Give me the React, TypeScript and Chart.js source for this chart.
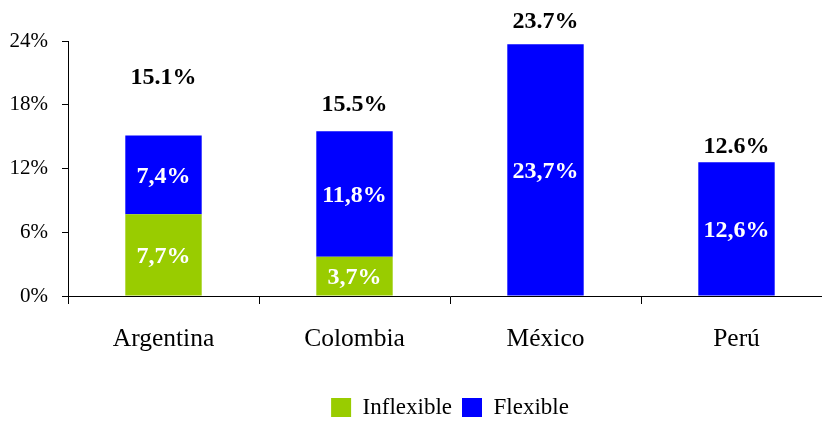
import React, { useEffect, useRef } from "react";
import { Chart, registerables } from "chart.js";

Chart.register(...registerables);

const categories = ["Argentina", "Colombia", "México", "Perú"];
const inflexible = [7.7, 3.7, 0, 0];
const flexible = [7.4, 11.8, 23.7, 12.6];
const yTicks = [0, 6, 12, 18, 24];
const totalLabelOffsets = [58, 27, 22, 15];

const GREEN = "#99CC00";
const BLUE = "#0000FF";
const SERIF = "'Liberation Serif', 'Times New Roman', serif";

const labelPlugin = {
  id: "valueLabels",
  afterDatasetsDraw(chart: any) {
    const ctx = chart.ctx;
    ctx.save();
    ctx.textAlign = "center";
    ctx.textBaseline = "middle";
    ctx.font = `bold 24px ${SERIF}`;
    ctx.fillStyle = "#FFFFFF";
    chart.data.datasets.forEach((ds: any, di: number) => {
      const meta = chart.getDatasetMeta(di);
      meta.data.forEach((el: any, i: number) => {
        const v = ds.data[i];
        if (!v) return;
        const y = (el.y + el.base) / 2 + 2;
        ctx.fillText(v.toFixed(1).replace(".", ",") + "%", el.x, y);
      });
    });
    ctx.fillStyle = "#000000";
    const yScale = chart.scales.y;
    categories.forEach((_, i) => {
      const total = inflexible[i] + flexible[i];
      const meta = chart.getDatasetMeta(1);
      const x = meta.data[i].x;
      const top = yScale.getPixelForValue(total);
      ctx.fillText(total.toFixed(1) + "%", x, top - totalLabelOffsets[i]);
    });
    ctx.restore();
  },
};

export default function App() {
  const ref = useRef<HTMLCanvasElement | null>(null);
  useEffect(() => {
    document.body.style.margin = "0";
    document.body.style.overflow = "hidden";
    if (!ref.current) return;
    const chart = new Chart(ref.current, {
      type: "bar",
      data: {
        labels: categories,
        datasets: [
          { label: "Inflexible", data: inflexible, backgroundColor: GREEN, categoryPercentage: 0.4, barPercentage: 1 },
          { label: "Flexible", data: flexible, backgroundColor: BLUE, categoryPercentage: 0.4, barPercentage: 1 },
        ],
      },
      options: {
        responsive: false,
        animation: false,
        devicePixelRatio: 1,
        layout: { padding: { left: 0, right: 68, top: 41, bottom: 0 } },
        plugins: {
          tooltip: { enabled: false },
          legend: {
            position: "bottom",
            fullSize: false,
            labels: {
              color: "#000",
              font: { family: SERIF, size: 23 },
              boxWidth: 20,
              boxHeight: 19,
              padding: 10,
            },
          },
        },
        scales: {
          x: {
            stacked: true,
            grid: { drawOnChartArea: false, offset: true, tickLength: 8, color: "#000" },
            border: { color: "#000", width: 1 },
            ticks: { color: "#000", font: { family: SERIF, size: 25.5 }, padding: 20, maxRotation: 0 },
            afterFit: (s: any) => { s.height = 90; },
          },
          y: {
            stacked: true,
            min: 0,
            max: 24,
            grid: { drawOnChartArea: false, tickLength: 6, color: "#000" },
            border: { color: "#000", width: 1 },
            afterBuildTicks: (s: any) => { s.ticks = yTicks.map((v) => ({ value: v })); },
            ticks: { color: "#000", font: { family: SERIF, size: 21 }, padding: 14, callback: (v: any) => v + "%" },
            afterFit: (s: any) => { s.width = 68; },
          },
        },
      },
      plugins: [labelPlugin],
    });
    return () => chart.destroy();
  }, []);
  return (
    <div style={{ width: 900, height: 423, overflow: "hidden" }}>
      <canvas ref={ref} width={900} height={429} style={{ display: "block" }} />
    </div>
  );
}
